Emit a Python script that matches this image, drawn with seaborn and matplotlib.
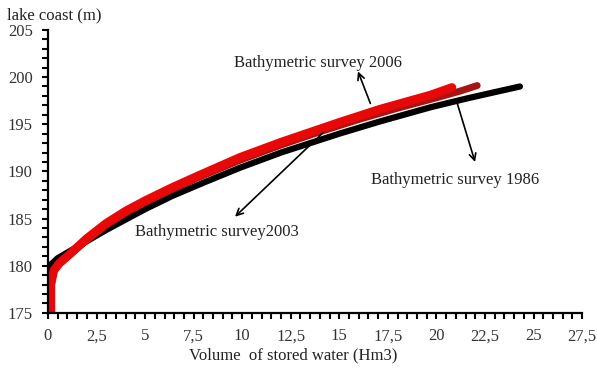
import numpy as np
import pandas as pd
import matplotlib
matplotlib.use("Agg")
import matplotlib.pyplot as plt
import seaborn as sns
from matplotlib.ticker import MultipleLocator, FuncFormatter

# Bathymetric survey 1986 (black)
vol_1986 = [0.0, 0.03, 0.08, 0.5, 1.0, 2.0, 3.0, 4.0, 5.0, 6.4, 8.0, 9.9, 12.0, 13.5, 15.0, 17.1, 19.7, 21.5, 23.0, 24.3]
lvl_1986 = [175.0, 178.0, 180.0, 180.8, 181.4, 182.6, 183.8, 184.9, 186.0, 187.4, 188.8, 190.4, 192.0, 193.0, 194.0, 195.3, 196.8, 197.7, 198.4, 199.0]

# Bathymetric survey 2003 (dark red)
vol_2003 = [0.12, 0.12, 0.25, 0.6, 1.1, 2.0, 3.0, 4.0, 5.0, 6.4, 7.8, 9.9, 12.0, 14.0, 16.0, 18.0, 20.0, 21.2, 22.1]
lvl_2003 = [175.0, 178.0, 179.4, 180.2, 181.1, 182.7, 184.3, 185.6, 186.7, 188.1, 189.4, 191.2, 192.8, 194.2, 195.5, 196.7, 197.8, 198.5, 199.1]

# Bathymetric survey 2006 (red)
vol_2006 = [0.15, 0.15, 0.3, 0.6, 1.1, 2.0, 3.0, 4.0, 5.0, 6.4, 7.8, 9.9, 12.0, 13.0, 15.0, 17.1, 19.7, 20.8]
lvl_2006 = [175.0, 178.0, 179.5, 180.3, 181.2, 182.9, 184.5, 185.8, 186.9, 188.3, 189.6, 191.5, 193.1, 193.8, 195.2, 196.6, 198.1, 198.9]

x_ticks = [0, 2.5, 5, 7.5, 10, 12.5, 15, 17.5, 20, 22.5, 25, 27.5]
y_ticks = [175, 180, 185, 190, 195, 200, 205]

sns.set_theme(style="ticks")
plt.rcParams["font.family"] = ["Liberation Serif", "DejaVu Serif"]

fig = plt.figure(figsize=(5.97, 3.69), dpi=100)
ax = fig.add_axes([0.0804, 0.152, 0.8946, 0.767])

df86 = pd.DataFrame({"v": vol_1986, "h": lvl_1986})
df03 = pd.DataFrame({"v": vol_2003, "h": lvl_2003})
df06 = pd.DataFrame({"v": vol_2006, "h": lvl_2006})

common = dict(sort=False, estimator=None, ax=ax, solid_joinstyle="round", solid_capstyle="round")
sns.lineplot(data=df86, x="v", y="h", color="black", linewidth=4.5, **common)
sns.lineplot(data=df03, x="v", y="h", color="#a81414", linewidth=5.0, **common)
sns.lineplot(data=df06, x="v", y="h", color="#e80808", linewidth=6.2, **common)

ax.set_xlim(0, 27.5)
ax.set_ylim(175, 205)
ax.set_xticks(x_ticks)
ax.set_yticks(y_ticks)
ax.xaxis.set_minor_locator(MultipleLocator(0.5))
ax.yaxis.set_minor_locator(MultipleLocator(1))


def comma_fmt(v, pos):
    s = ("%g" % v)
    return s.replace(".", ",")


ax.xaxis.set_major_formatter(FuncFormatter(comma_fmt))
ax.yaxis.set_major_formatter(FuncFormatter(comma_fmt))

for side in ["top", "right"]:
    ax.spines[side].set_visible(False)
for side in ["left", "bottom"]:
    ax.spines[side].set_linewidth(1.6)
    ax.spines[side].set_color("black")

ax.tick_params(axis="both", which="major", length=4, width=1.5, color="black",
               labelsize=12, labelcolor="#333333", direction="out")
ax.tick_params(axis="both", which="minor", length=4, width=1.5, color="black", direction="out")
ax.tick_params(axis="x", which="major", pad=7)
ax.tick_params(axis="y", which="major", pad=7)

ax.set_xlabel("")
ax.set_ylabel("")

fig.text(293 / 597, 1 - 355 / 369, "Volume  of stored water (Hm3)", ha="center", va="center",
         fontsize=12, color="#222222")
fig.text(7 / 597, 1 - 15 / 369, "lake coast (m)", ha="left", va="center",
         fontsize=12, color="#222222")

arrow = dict(arrowstyle="->", lw=1.2, color="black", shrinkA=0, shrinkB=0)
ax.text(13.9, 201.5, "Bathymetric survey 2006", ha="center", va="center", fontsize=12, color="#222222")
ax.annotate("", xy=(15.96, 200.6), xytext=(16.6, 197.2), arrowprops=arrow)

ax.text(20.96, 189.1, "Bathymetric survey 1986", ha="center", va="center", fontsize=12, color="#222222")
ax.annotate("", xy=(21.99, 191.0), xytext=(21.06, 197.3), arrowprops=arrow)

ax.text(8.7, 183.6, "Bathymetric survey2003", ha="center", va="center", fontsize=12, color="#222222")
ax.annotate("", xy=(9.63, 185.2), xytext=(14.16, 194.1), arrowprops=arrow)

fig.savefig("out.png", dpi=100)
